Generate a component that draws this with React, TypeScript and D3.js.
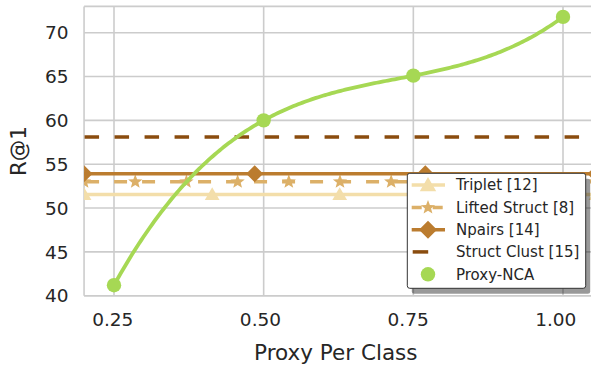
import React from "react";
import * as d3 from "d3";

const W = 591;
const H = 366;

// Baselines (R@1)
const tripletValue = 51.54;
const liftedValue = 53.0;
const npairsValue = 53.9;
const structClustValue = 58.11;

// Proxy-NCA points
const proxyX = [0.25, 0.5, 0.75, 1.0];
const proxyY = [41.2, 60.0, 65.1, 71.8];

// Baseline line extent and marker positions (x)
const baselineExtent = [0.2, 1.055];
const tripletMarkers = [0.2, 0.414, 0.627, 0.841, 1.055];
const liftedMarkers = [0.2, 0.2855, 0.371, 0.4565, 0.542, 0.6275, 0.713, 0.7985, 0.884, 0.9695, 1.055];
const npairsMarkers = [0.2, 0.485, 0.77, 1.055];

const xTicks = [0.25, 0.5, 0.75, 1.0];
const yTicks = [40, 45, 50, 55, 60, 65, 70];

const legendLabels = ["Triplet [12]", "Lifted Struct [8]", "Npairs [14]", "Struct Clust [15]", "Proxy-NCA"];

const C_TRIPLET = "#f3deaa";
const C_LIFTED = "#dcb068";
const C_NPAIRS = "#bb7c2f";
const C_CLUST = "#8a4c0e";
const C_PROXY = "#a6d854";
const GRID = "#cccccc";
const TEXT = "#262626";
const FONT = "DejaVu Sans, sans-serif";

function trianglePath(cx: number, cy: number, r: number) {
  const pts = [0, 1, 2].map((i) => {
    const a = -Math.PI / 2 + (i * 2 * Math.PI) / 3;
    return [cx + r * Math.cos(a), cy + r * Math.sin(a) + r * 0.15];
  });
  return "M" + pts.map((p) => p.join(",")).join("L") + "Z";
}
function starPath(cx: number, cy: number, ro: number, ri: number) {
  const pts: number[][] = [];
  for (let i = 0; i < 10; i++) {
    const r = i % 2 === 0 ? ro : ri;
    const a = -Math.PI / 2 + (i * Math.PI) / 5;
    pts.push([cx + r * Math.cos(a), cy + r * Math.sin(a)]);
  }
  return "M" + pts.map((p) => p.join(",")).join("L") + "Z";
}
function diamondPath(cx: number, cy: number, rx: number, ry: number) {
  return `M${cx - rx},${cy}L${cx},${cy - ry}L${cx + rx},${cy}L${cx},${cy + ry}Z`;
}

function lagrange(xs: number[], ys: number[], t: number) {
  let s = 0;
  for (let i = 0; i < xs.length; i++) {
    let p = ys[i];
    for (let j = 0; j < xs.length; j++) if (j !== i) p *= (t - xs[j]) / (xs[i] - xs[j]);
    s += p;
  }
  return s;
}

export default function App() {
  const x = d3.scaleLinear().domain([0.25, 1.0]).range([114, 563]);
  const xLabel = d3.scaleLinear().domain([0.25, 1.0]).range([112.8, 555.8]);
  const y = d3.scaleLinear().domain([40, 70]).range([295.7, 32.7]);
  const left = x(0.2);
  const top = y(73);
  const bottom = y(40);
  const right = 600;

  const curvePts = d3.range(0, 201).map((i) => {
    const t = proxyX[0] + (i / 200) * (proxyX[3] - proxyX[0]);
    return [t, lagrange(proxyX, proxyY, t)] as [number, number];
  });
  const line = d3
    .line<[number, number]>()
    .x((d) => x(d[0]))
    .y((d) => y(d[1]));

  const hLine = (v: number) => line([[baselineExtent[0], v], [baselineExtent[1], v]]) || "";

  const lx = 407.3,
    ly = 173.3,
    lw = 178.4,
    lh = 115;
  const rowY = [185, 207.5, 229.8, 251.9, 274.3];
  const hx0 = 411.7,
    hx1 = 445,
    hm = 428,
    tx = 456;

  return (
    <svg width={W} height={H} style={{ position: "absolute", left: 0, top: 0 }} fontFamily={FONT}>
      <defs>
        <clipPath id="plot">
          <rect x={left} y={top} width={right - left} height={bottom - top} />
        </clipPath>
      </defs>
      <rect width={W} height={H} fill="#ffffff" />
      {/* grid */}
      <g stroke={GRID} strokeWidth={1.6}>
        {xTicks.map((t) => (
          <line key={"gx" + t} x1={x(t)} x2={x(t)} y1={top} y2={bottom} />
        ))}
        {yTicks.map((t) => (
          <line key={"gy" + t} x1={left} x2={right} y1={y(t)} y2={y(t)} />
        ))}
        <line x1={left} x2={left} y1={top} y2={bottom} />
        <line x1={left} x2={right} y1={top} y2={top} />
        <line x1={left} x2={right} y1={bottom} y2={bottom} />
      </g>

      <g clipPath="url(#plot)">
        {/* Triplet */}
        <path d={hLine(tripletValue)} stroke={C_TRIPLET} strokeWidth={3.5} fill="none" />
        {tripletMarkers.map((m, i) => (
          <path key={"tm" + i} d={trianglePath(x(m), y(tripletValue), 8.5)} fill={C_TRIPLET} />
        ))}
        {/* Lifted */}
        <path d={hLine(liftedValue)} stroke={C_LIFTED} strokeWidth={3.5} fill="none" strokeDasharray="13 15" strokeDashoffset={-2} />
        {liftedMarkers.map((m, i) => (
          <path key={"lm" + i} d={starPath(x(m), y(liftedValue), 7.5, 3.2)} fill={C_LIFTED} />
        ))}
        {/* Npairs */}
        <path d={hLine(npairsValue)} stroke={C_NPAIRS} strokeWidth={3.5} fill="none" />
        {npairsMarkers.map((m, i) => (
          <path key={"nm" + i} d={diamondPath(x(m), y(npairsValue), 8.5, 8.5)} fill={C_NPAIRS} />
        ))}
        {/* Struct Clust */}
        <path d={hLine(structClustValue)} stroke={C_CLUST} strokeWidth={3.5} fill="none" strokeDasharray="14.5 15.5" strokeDashoffset={-0.5} />
        {/* Proxy-NCA */}
        <path d={line(curvePts) || ""} stroke={C_PROXY} strokeWidth={3.8} fill="none" />
        {proxyX.map((px, i) => (
          <circle key={"pc" + i} cx={x(px)} cy={y(proxyY[i])} r={7.2} fill={C_PROXY} />
        ))}
      </g>

      {/* tick labels */}
      <g fill={TEXT} fontSize={18.5}>
        {yTicks.map((t) => (
          <text key={"yl" + t} x={68.5} y={y(t)} dy="0.36em" textAnchor="end">
            {t}
          </text>
        ))}
        {xTicks.map((t) => (
          <text key={"xl" + t} x={xLabel(t)} y={325.7} textAnchor="middle">
            {d3.format(".2f")(t)}
          </text>
        ))}
      </g>
      <text x={xLabel((0.2 + 1.055) / 2)} y={359.5} textAnchor="middle" fontSize={21.5} fill={TEXT}>
        Proxy Per Class
      </text>
      <text transform={`translate(25.5, ${(top + bottom) / 2}) rotate(-90)`} textAnchor="middle" fontSize={21.5} fill={TEXT}>
        R@1
      </text>

      {/* legend */}
      <rect x={lx + 4.5} y={ly + 5.5} width={lw} height={lh} rx={2.5} fill="#000" fillOpacity={0.4} />
      <rect x={lx} y={ly} width={lw} height={lh} rx={2.5} fill="#ffffff" stroke="#333" strokeWidth={1} />
      <g>
        <line x1={hx0} x2={hx1} y1={rowY[0]} y2={rowY[0]} stroke={C_TRIPLET} strokeWidth={3.5} />
        <path d={trianglePath(hm, rowY[0], 9.5)} fill={C_TRIPLET} />
        <line x1={hx0} x2={hx1} y1={rowY[1]} y2={rowY[1]} stroke={C_LIFTED} strokeWidth={3.5} strokeDasharray="10 11" />
        <path d={starPath(hm, rowY[1], 7.5, 3.2)} fill={C_LIFTED} />
        <line x1={hx0} x2={hx1} y1={rowY[2]} y2={rowY[2]} stroke={C_NPAIRS} strokeWidth={3.5} />
        <path d={diamondPath(hm, rowY[2], 9, 9)} fill={C_NPAIRS} />
        <line x1={hx0} x2={hx1} y1={rowY[3]} y2={rowY[3]} stroke={C_CLUST} strokeWidth={3.5} strokeDasharray="15.5 40" strokeDashoffset={-1} />
        <circle cx={hm} cy={rowY[4]} r={7.2} fill={C_PROXY} />
      </g>
      <g fill={TEXT} fontSize={15}>
        {legendLabels.map((l, i) => (
          <text key={l} x={tx} y={rowY[i]} dy="0.36em">
            {l}
          </text>
        ))}
      </g>
    </svg>
  );
}
